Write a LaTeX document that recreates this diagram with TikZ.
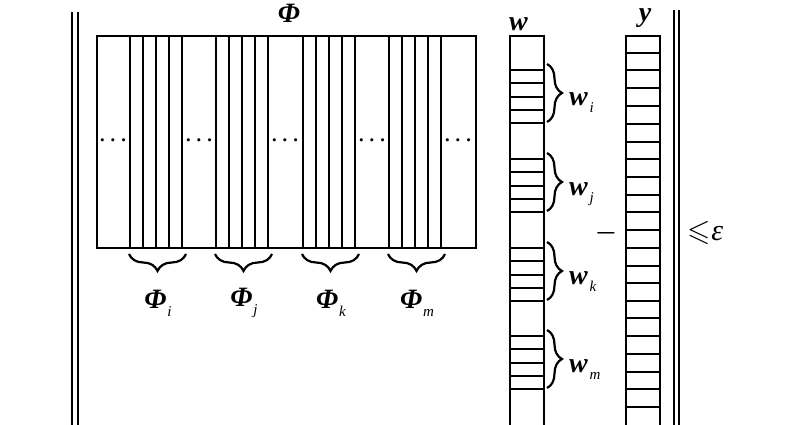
\documentclass[tikz,border=0pt]{standalone}
\usepackage{amssymb}
\usepackage{fontspec}
\setmainfont{Liberation Serif}
\usetikzlibrary{decorations.pathreplacing}
\newcommand{\subfont}{\fontsize{15}{16}\selectfont\mdseries\itshape}
\begin{document}
\begin{tikzpicture}[x=1pt,y=-1pt, line width=2pt,
  lbl/.style={font=\fontsize{28}{30}\selectfont\bfseries\itshape, inner sep=0},
  cellbox/.style={draw, inner sep=0, anchor=north west},
  dotlbl/.style={inner sep=0, font=\fontsize{22}{24}\selectfont\boldmath},
  brch/.style={decorate, decoration={brace, mirror, amplitude=17pt, aspect=0.5}, line width=2.2pt},
  brcv/.style={decorate, decoration={brace, amplitude=15pt, aspect=0.5}, line width=2.2pt},
  bar/.style={line width=2pt}]
\useasboundingbox (0,0) rectangle (800,425);
% left norm bars
\coordinate (L1a) at (72,12); \coordinate (L1b) at (72,426);
\coordinate (L2a) at (78,12); \coordinate (L2b) at (78,426);
\draw[bar] (L1a) -- (L1b);
\draw[bar] (L2a) -- (L2b);
% Phi matrix
\node[cellbox, minimum width=379pt, minimum height=212pt] (Phi) at (96,35) {};
\node[lbl] (PhiL) at (289,13) {Φ};
\foreach \s/\n in {130/i,216/j,303/k,389/m} {
  \foreach \d in {0,13,26,39,52} \draw (\s+\d,35) -- (\s+\d,247);
  \coordinate (pb\n a) at (\s-1,254);
  \coordinate (pb\n b) at (\s+56,254);
  \draw[brch] (pb\n a) -- (pb\n b);
  \node[lbl] (pl\n) at (\s+28,303) {Φ\kern1pt\raisebox{-8pt}{\subfont \n}};
}
\foreach \x [count=\k] in {113,199,285,372,458}
  \node[dotlbl] (dots\k) at (\x,141) {$\cdots$};
% w vector
\node[cellbox, minimum width=34pt, minimum height=391pt] (W) at (509,35) {};
\node[lbl, anchor=base west] (WL) at (508,31) {w};
\foreach \s/\n in {70/i,159/j,248/k,336/m} {
  \foreach \d in {0,13,27,40,53} \draw (509,\s+\d) -- (543,\s+\d);
  \coordinate (wb\n a) at (547,\s-6);
  \coordinate (wb\n b) at (547,\s+52);
  \draw[brcv] (wb\n a) -- (wb\n b);
  \node[lbl, anchor=base west] (wl\n) at (568,\s+36) {w\kern2pt\raisebox{-7pt}{\subfont \n}};
}
% minus
\node[inner sep=0, font=\fontsize{24}{26}\selectfont\boldmath] (minus) at (606,233) {$-$};
% y vector
\node[cellbox, minimum width=34pt, minimum height=391pt] (Y) at (625,35) {};
\node[lbl, anchor=base] (YL) at (645,22) {y};
\foreach \yy in {53,70,88,106,124,142,159,177,195,212,230,248,266,283,301,318,336,354,372,389,407}
  \draw (625,\yy) -- (659,\yy);
% right norm bars
\coordinate (R1a) at (674,10); \coordinate (R1b) at (674,426);
\coordinate (R2a) at (679,10); \coordinate (R2b) at (679,426);
\draw[bar] (R1a) -- (R1b);
\draw[bar] (R2a) -- (R2b);
% <= epsilon
\node[inner sep=0, anchor=west, font=\fontsize{30}{32}\selectfont] (leq) at (686,233) {$\leqslant$\kern1pt{\itshape ε}};
\end{tikzpicture}
\end{document}
